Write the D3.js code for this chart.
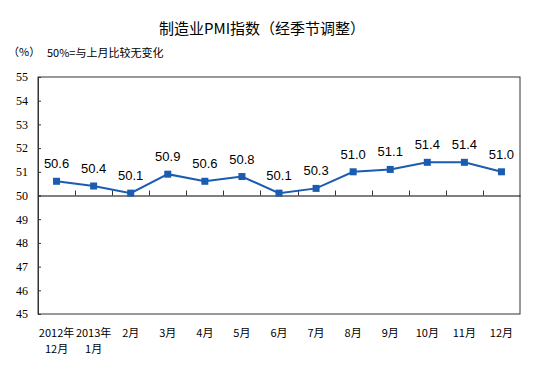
<!DOCTYPE html>
<html>
<head>
<meta charset="utf-8">
<script src="https://cdn.jsdelivr.net/npm/d3@7"></script>
<style>
  body { margin: 0; background: #fff; }
  svg { display: block; }
</style>
</head>
<body>
<div id="chart"></div>
<script>
var svgWidth = 537;
var svgHeight = 371;

var margin = { top: 77, right: 17, bottom: 57, left: 38 };
var width = svgWidth - margin.left - margin.right;
var height = svgHeight - margin.top - margin.bottom;

// data
var months = ["2012年|12月", "2013年|1月", "2月", "3月", "4月", "5月", "6月", "7月", "8月", "9月", "10月", "11月", "12月"];
var pmi = [50.6, 50.4, 50.1, 50.9, 50.6, 50.8, 50.1, 50.3, 51.0, 51.1, 51.4, 51.4, 51.0];
var yTicks = [45, 46, 47, 48, 49, 50, 51, 52, 53, 54, 55];

var lineColor = "#1a5cb0";
var cjk = "'Noto Sans CJK SC', sans-serif";

var svg = d3.select("#chart").append("svg")
  .attr("width", svgWidth)
  .attr("height", svgHeight);

// title + notes
svg.append("text")
  .attr("x", 262).attr("y", 34)
  .attr("text-anchor", "middle")
  .style("font-family", cjk).style("font-size", "15px")
  .text("制造业PMI指数（经季节调整）");

svg.append("text")
  .attr("x", 8).attr("y", 56)
  .style("font-family", cjk).style("font-size", "11px")
  .text("（%）");

svg.append("text")
  .attr("x", 47).attr("y", 57)
  .style("font-family", cjk).style("font-size", "11px")
  .text("50%=与上月比较无变化");

var chartGroup = svg.append("g")
  .attr("transform", `translate(${margin.left}, ${margin.top})`);

var x = d3.scaleBand().domain(months).range([0, width]);
var y = d3.scaleLinear().domain([45, 55]).range([height, 0]);

// frame
chartGroup.append("rect")
  .attr("width", width).attr("height", height)
  .attr("fill", "none").attr("stroke", "#333").attr("stroke-width", 1);

// y axis
var leftAxis = d3.axisLeft(y).tickValues(yTicks).tickSizeInner(-3).tickSizeOuter(0).tickPadding(10);
var yg = chartGroup.append("g").call(leftAxis);
yg.select(".domain").attr("stroke", "#333");
yg.selectAll(".tick line").attr("stroke", "#333");
yg.selectAll(".tick text")
  .style("font-family", "'Liberation Serif', serif").style("font-size", "12px").attr("fill", "#000");

// 50 line with category ticks
var midAxis = d3.axisTop(x).tickSize(0).tickFormat("");
chartGroup.append("g")
  .attr("transform", `translate(0, ${y(50)})`)
  .call(midAxis)
  .select(".domain").attr("stroke", "#000");

chartGroup.append("g").selectAll("line")
  .data(months.slice(1))
  .enter().append("line")
  .attr("x1", d => Math.round(x(d)) + 0.5)
  .attr("x2", d => Math.round(x(d)) + 0.5)
  .attr("y1", y(50)).attr("y2", y(50) - 5)
  .attr("stroke", "#333");

// x labels
var xl = chartGroup.append("g").selectAll("text")
  .data(months)
  .enter().append("text")
  .attr("x", d => x(d) + x.bandwidth() / 2)
  .attr("y", height + 23)
  .attr("text-anchor", "middle")
  .style("font-family", cjk).style("font-size", "11px");
xl.each(function(d) {
  var parts = d.split("|");
  var t = d3.select(this);
  parts.forEach(function(p, i) {
    t.append("tspan")
      .attr("x", x(d) + x.bandwidth() / 2)
      .attr("dy", i === 0 ? 0 : 16)
      .text(p);
  });
});

// line
var line = d3.line()
  .x((d, i) => x(months[i]) + x.bandwidth() / 2)
  .y(d => y(d));

chartGroup.append("path")
  .datum(pmi)
  .attr("d", line)
  .attr("fill", "none")
  .attr("stroke", lineColor)
  .attr("stroke-width", 2);

chartGroup.selectAll(".pt")
  .data(pmi)
  .enter().append("rect")
  .attr("class", "pt")
  .attr("x", (d, i) => x(months[i]) + x.bandwidth() / 2 - 3.5)
  .attr("y", d => y(d) - 3.5)
  .attr("width", 7).attr("height", 7)
  .attr("fill", lineColor);

chartGroup.selectAll(".lbl")
  .data(pmi)
  .enter().append("text")
  .attr("class", "lbl")
  .attr("x", (d, i) => x(months[i]) + x.bandwidth() / 2)
  .attr("y", d => y(d) - 13)
  .attr("text-anchor", "middle")
  .style("font-family", "'Liberation Sans', Arial, sans-serif")
  .style("font-size", "13px")
  .text(d => d.toFixed(1));
</script>
</body>
</html>
